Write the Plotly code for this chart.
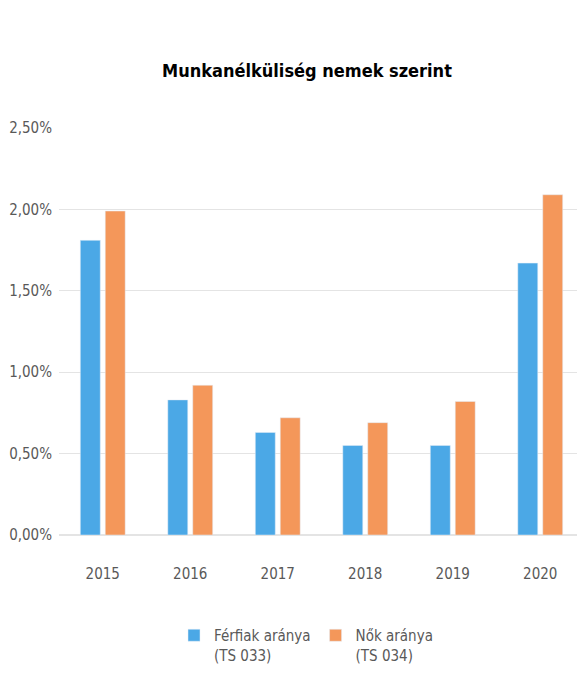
import plotly.graph_objects as go

# data (percent)
years = ["2015", "2016", "2017", "2018", "2019", "2020"]
ferfiak = [1.81, 0.83, 0.63, 0.55, 0.55, 1.67]
nok = [1.99, 0.92, 0.72, 0.69, 0.82, 2.09]

font_family = "DejaVu Sans Condensed, Liberation Sans Narrow, sans-serif"
grey = "#595959"

# the page puts the figure 8px in from the top-left corner, so shift by that
off = 8
W, H = 585, 685
left, right, top, bottom = 59 - off, 584 - off, 128 - off, 535 - off

fig = go.Figure()
fig.add_trace(go.Bar(
    x=years, y=ferfiak,
    name="Férfiak aránya<br>(TS 033)",
    marker_color="#4BA8E6",
))
fig.add_trace(go.Bar(
    x=years, y=nok,
    name="Nők aránya<br>(TS 034)",
    marker_color="#F4975A",
))

fig.update_layout(
    width=W, height=H,
    margin=dict(l=left, r=W - right, t=top, b=H - bottom, autoexpand=False),
    plot_bgcolor="white", paper_bgcolor="white",
    separators=",.",
    barmode="group",
    bargap=0.43,
    bargroupgap=0.2,
    font=dict(family=font_family, color=grey, size=15),
    title=dict(
        text="<b>Munkanélküliség nemek szerint</b>",
        x=(307 - off) / W, xanchor="center",
        y=1 - (71 - off) / H, yanchor="middle",
        font=dict(family=font_family, size=18, color="black"),
    ),
    legend=dict(
        orientation="h",
        x=(306 - off - left) / (right - left), xanchor="center",
        y=-(619 - 535) / (535 - 128), yanchor="top",
        valign="top",
        font=dict(size=15, color=grey),
        itemwidth=30,
        tracegroupgap=0,
    ),
)

fig.update_yaxes(
    range=[0, 2.5],
    dtick=0.5,
    tickformat=".2f",
    ticksuffix="%",
    showgrid=True,
    gridcolor="#E4E4E4",
    zeroline=True,
    zerolinecolor="#E4E4E4",
    showline=False,
    ticks="",
    ticklabelstandoff=6,
    automargin=False,
)
fig.update_xaxes(
    showline=False,
    ticks="",
    ticklabelstandoff=28,
    automargin=False,
)

fig.write_html("out.html")
